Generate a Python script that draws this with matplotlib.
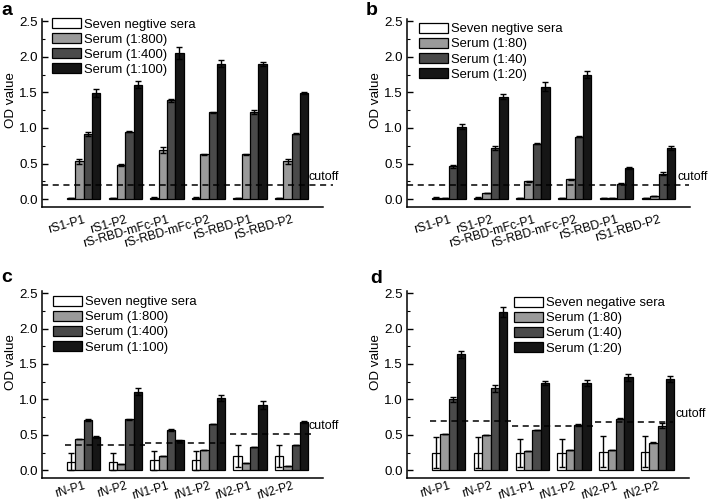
import numpy as np
import matplotlib
matplotlib.use("Agg")
import matplotlib.pyplot as plt
from matplotlib.patches import Patch
from matplotlib.ticker import MultipleLocator
import matplotlib.transforms as mtransforms

plt.rcParams['font.family'] = ['Liberation Sans', 'DejaVu Sans']

# ---------------- data ----------------
groups_ab_a = ["rS1-P1", "rS1-P2", "rS-RBD-mFc-P1", "rS-RBD-mFc-P2", "rS-RBD-P1", "rS-RBD-P2"]
groups_ab_b = ["rS1-P1", "rS1-P2", "rS-RBD-mFc-P1", "rS-RBD-mFc-P2", "rS-RBD-P1", "rS1-RBD-P2"]
groups_cd = ["rN-P1", "rN-P2", "rN1-P1", "rN1-P2", "rN2-P1", "rN2-P2"]

legend_a = ["Seven negtive sera", "Serum (1:800)", "Serum (1:400)", "Serum (1:100)"]
legend_b = ["Seven negtive sera", "Serum (1:80)", "Serum (1:40)", "Serum (1:20)"]
legend_c = ["Seven negtive sera", "Serum (1:800)", "Serum (1:400)", "Serum (1:100)"]
legend_d = ["Seven negative sera", "Serum (1:80)", "Serum (1:40)", "Serum (1:20)"]

# values per series (negative, low, mid, high) for each group
a_neg = [0.02, 0.02, 0.02, 0.02, 0.02, 0.02]
a_s1 = [0.53, 0.48, 0.69, 0.63, 0.63, 0.53]
a_s2 = [0.92, 0.95, 1.39, 1.22, 1.22, 0.92]
a_s3 = [1.49, 1.61, 2.05, 1.90, 1.90, 1.49]
a_neg_err = [0.0, 0.0, 0.01, 0.01, 0.0, 0.0]
a_s1_err = [0.03, 0.01, 0.04, 0.01, 0.01, 0.03]
a_s2_err = [0.03, 0.01, 0.02, 0.01, 0.03, 0.01]
a_s3_err = [0.06, 0.05, 0.08, 0.05, 0.03, 0.02]

b_neg = [0.02, 0.02, 0.02, 0.02, 0.02, 0.02]
b_s1 = [0.02, 0.08, 0.25, 0.28, 0.02, 0.05]
b_s2 = [0.46, 0.72, 0.78, 0.88, 0.22, 0.36]
b_s3 = [1.02, 1.44, 1.58, 1.75, 0.44, 0.72]
b_neg_err = [0.01, 0.01, 0.0, 0.0, 0.0, 0.0]
b_s1_err = [0.0, 0.0, 0.01, 0.01, 0.0, 0.0]
b_s2_err = [0.02, 0.03, 0.01, 0.01, 0.01, 0.02]
b_s3_err = [0.04, 0.04, 0.06, 0.05, 0.01, 0.03]

c_neg = [0.12, 0.12, 0.14, 0.14, 0.20, 0.20]
c_s1 = [0.44, 0.09, 0.20, 0.28, 0.10, 0.06]
c_s2 = [0.71, 0.72, 0.57, 0.65, 0.33, 0.36]
c_s3 = [0.47, 1.11, 0.42, 1.02, 0.92, 0.68]
c_neg_err = [0.12, 0.12, 0.13, 0.13, 0.16, 0.16]
c_s1_err = [0.0, 0.0, 0.0, 0.0, 0.0, 0.0]
c_s2_err = [0.01, 0.01, 0.01, 0.0, 0.0, 0.0]
c_s3_err = [0.02, 0.05, 0.01, 0.04, 0.06, 0.01]

d_neg = [0.25, 0.25, 0.24, 0.24, 0.26, 0.26]
d_s1 = [0.51, 0.50, 0.27, 0.29, 0.28, 0.39]
d_s2 = [1.00, 1.16, 0.57, 0.64, 0.73, 0.63]
d_s3 = [1.64, 2.23, 1.23, 1.23, 1.31, 1.29]
d_neg_err = [0.22, 0.22, 0.20, 0.20, 0.22, 0.22]
d_s1_err = [0.0, 0.0, 0.0, 0.0, 0.0, 0.01]
d_s2_err = [0.03, 0.05, 0.0, 0.01, 0.01, 0.03]
d_s3_err = [0.05, 0.07, 0.03, 0.04, 0.05, 0.04]

cutoff_ab = [0.2]
cutoff_c = [0.35, 0.38, 0.51]
cutoff_d = [0.69, 0.62, 0.68]

# ---------------- style ----------------
colors = ["#ffffff", "#9a9a9a", "#4a4a4a", "#161616"]
W, H = 708, 503
fig = plt.figure(figsize=(W / 100, H / 100), dpi=100)


def px_axes(l, r, t, b):
    return fig.add_axes([l / W, (H - b) / H, (r - l) / W, (b - t) / H])


def draw_panel(ax, labels, vals, errs, leg_labels, leg_pos, xoff_px, xpad, xfs):
    x = np.arange(1, len(labels) + 1)
    w = 0.2
    for i, (v, e) in enumerate(zip(vals, errs)):
        xi = x + (i - 1.5) * w
        ax.bar(xi, v, width=w, color=colors[i], edgecolor="black", linewidth=0.9, zorder=2)
        ax.errorbar(xi, v, yerr=e, fmt="none", ecolor="black", elinewidth=1.0,
                    capsize=2, capthick=1.0, zorder=3)
    ax.set_xlim(0, 6.75)
    ax.set_ylim(-0.11, 2.53)
    ax.set_xticks(x)
    ax.set_xticklabels(labels, rotation=16, ha="right", rotation_mode="anchor", fontsize=xfs)
    off = mtransforms.ScaledTranslation(xoff_px / 100, 0, fig.dpi_scale_trans)
    for t in ax.get_xticklabels():
        t.set_transform(t.get_transform() + off)
    ax.tick_params(axis="x", length=0, pad=xpad)
    ax.yaxis.set_minor_locator(MultipleLocator(0.25))
    ax.set_yticks([0, 0.5, 1.0, 1.5, 2.0, 2.5])
    ax.set_yticklabels(["0.0", "0.5", "1.0", "1.5", "2.0", "2.5"], fontsize=9.6)
    ax.tick_params(axis="y", which="major", direction="in", length=4, width=1, pad=3)
    ax.tick_params(axis="y", which="minor", direction="in", length=2, width=0.8)
    for s in ["top", "right"]:
        ax.spines[s].set_visible(False)
    for s in ["left", "bottom"]:
        ax.spines[s].set_linewidth(1.1)
    ax.set_ylabel("OD value", fontsize=9.6)
    handles = [Patch(facecolor=c, edgecolor="black", linewidth=0.9) for c in colors]
    ax.legend(handles, leg_labels, loc="upper left", bbox_to_anchor=leg_pos, frameon=False,
              fontsize=9.4, handlelength=2.2, handleheight=0.8, labelspacing=0.2,
              handletextpad=0.25, borderpad=0, borderaxespad=0)


axa = px_axes(42, 323, 19, 207)
axb = px_axes(407, 690, 19, 207)
axc = px_axes(42, 323, 291, 478)
axd = px_axes(407, 689, 291, 478)

draw_panel(axa, groups_ab_a, [a_neg, a_s1, a_s2, a_s3], [a_neg_err, a_s1_err, a_s2_err, a_s3_err],
           legend_a, (0.036, 1.005), 8, 5, 8.8)
draw_panel(axb, groups_ab_b, [b_neg, b_s1, b_s2, b_s3], [b_neg_err, b_s1_err, b_s2_err, b_s3_err],
           legend_b, (0.042, 0.98), 3, 5, 8.8)
draw_panel(axc, groups_cd, [c_neg, c_s1, c_s2, c_s3], [c_neg_err, c_s1_err, c_s2_err, c_s3_err],
           legend_c, (0.04, 0.975), 9, 1.5, 8.5)
draw_panel(axd, groups_cd, [d_neg, d_s1, d_s2, d_s3], [d_neg_err, d_s1_err, d_s2_err, d_s3_err],
           legend_d, (0.38, 0.97), 4, 1.5, 8.5)

axa.yaxis.set_label_coords(-0.088, 0.57)
axb.yaxis.set_label_coords(-0.088, 0.57)
axc.yaxis.set_label_coords(-0.088, 0.62)
axd.yaxis.set_label_coords(-0.088, 0.62)

# cutoff lines
dash = dict(color="black", linestyle=(0, (4, 3)), linewidth=1.1, zorder=4, clip_on=False)
axa.plot([0, 7.0], [cutoff_ab[0]] * 2, **dash)
axa.text(6.4, cutoff_ab[0] + 0.02, "cutoff", fontsize=9, va="bottom", ha="left")
axb.plot([0, 6.72], [cutoff_ab[0]] * 2, **dash)
axb.text(6.46, cutoff_ab[0] + 0.02, "cutoff", fontsize=9, va="bottom", ha="left")

c_spans = [(0.55, 2.48), (2.48, 4.47), (4.52, 6.5)]
for (x0, x1), yv in zip(c_spans, cutoff_c):
    axc.plot([x0, x1], [yv, yv], **dash)
axc.text(6.4, cutoff_c[-1] + 0.03, "cutoff", fontsize=9, va="bottom", ha="left")

d_spans = [(0.55, 2.51), (2.51, 4.5), (4.5, 6.36)]
for (x0, x1), yv in zip(d_spans, cutoff_d):
    axd.plot([x0, x1], [yv, yv], **dash)
axd.text(6.42, cutoff_d[-1] + 0.03, "cutoff", fontsize=9, va="bottom", ha="left")

# panel letters
for lab, xp, yp in [("a", 1, 15), ("b", 366, 15), ("c", 1, 282), ("d", 370, 283)]:
    fig.text(xp / W, 1 - yp / H, lab, fontsize=14, fontweight="bold", ha="left", va="baseline")

fig.savefig("out.png", dpi=100)
